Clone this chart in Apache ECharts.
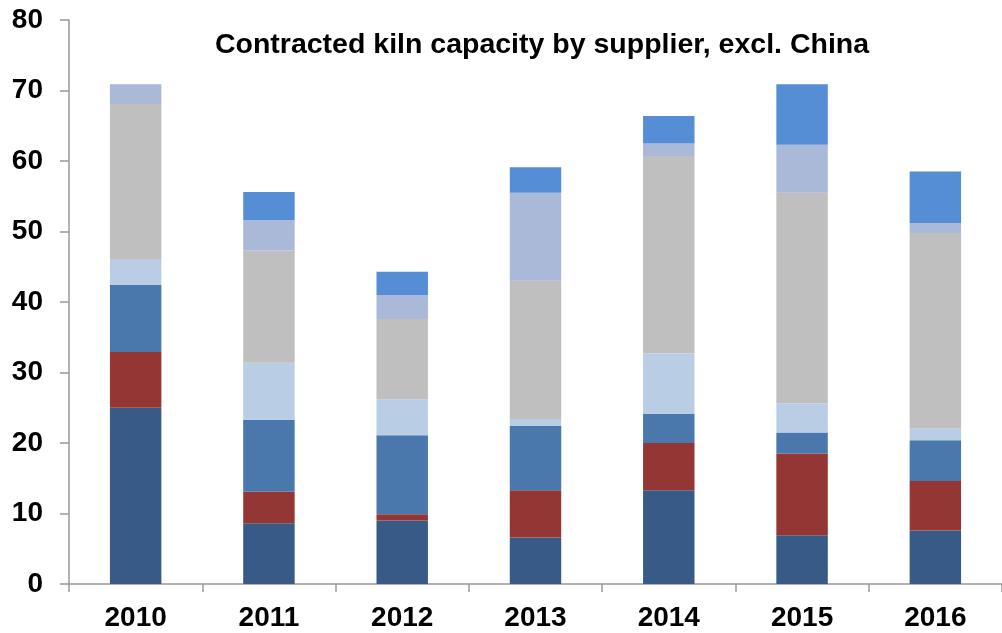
<!DOCTYPE html>
<html>
<head>
<meta charset="utf-8">
<script src="https://cdn.jsdelivr.net/npm/echarts@6/dist/echarts.min.js"></script>
<style>html,body{margin:0;padding:0;background:#fff;}#c{width:1002px;height:633px;}</style>
</head>
<body>
<div id="c"></div>
<script>
const categories = ['2010','2011','2012','2013','2014','2015','2016'];
const s1 = [25.0, 8.6, 9.0, 6.6, 13.3, 6.9, 7.6];
const s2 = [7.9, 4.5, 0.9, 6.7, 6.7, 11.6, 7.0];
const s3 = [9.5, 10.2, 11.2, 9.1, 4.1, 3.0, 5.8];
const s4 = [3.6, 8.1, 5.1, 1.0, 8.6, 4.1, 1.7];
const s5 = [22.1, 15.9, 11.4, 19.6, 28.0, 29.9, 27.7];
const s6 = [2.8, 4.3, 3.4, 12.5, 1.8, 6.8, 1.4];
const s7 = [0, 4.0, 3.3, 3.6, 3.9, 8.6, 7.3];
const yTicks = [0,10,20,30,40,50,60,70,80];
const seriesData = [s1,s2,s3,s4,s5,s6,s7];
const colors = ['#375B86','#943634','#4A77AC','#B9CDE5','#BFBFBF','#AAB9D8','#558ED5'];
const names = ['S1','S2','S3','S4','S5','S6','S7'];

const chart = echarts.init(document.getElementById('c'), null, {renderer:'canvas'});
chart.setOption({
  animation: false,
  backgroundColor: '#fff',
  title: {
    text: 'Contracted kiln capacity by supplier, excl. China',
    left: 537, textAlign: 'center', top: 26,
    textStyle: {fontFamily: 'Liberation Sans, Arial, sans-serif', fontWeight: 'bold', fontSize: 28.5, color: '#000'}
  },
  grid: {left: 69, right: -10, top: 20, bottom: 49, containLabel: false},
  xAxis: {
    type: 'category', data: categories,
    axisLine: {lineStyle: {color: '#999', width: 1.5}},
    axisTick: {show: true, length: 8, inside: false, alignWithLabel: false, lineStyle: {color: '#999', width: 1.5}},
    axisLabel: {margin: 20, color: '#000', fontFamily: 'Liberation Sans, Arial, sans-serif', fontWeight: 'bold', fontSize: 28}
  },
  yAxis: {
    type: 'value', min: yTicks[0], max: yTicks[yTicks.length-1], interval: 10,
    splitLine: {show: false},
    axisLine: {show: true, lineStyle: {color: '#999', width: 1.5}},
    axisTick: {show: true, length: 9, lineStyle: {color: '#999', width: 1.5}},
    axisLabel: {margin: 26, color: '#000', fontFamily: 'Liberation Sans, Arial, sans-serif', fontWeight: 'bold', fontSize: 28}
  },
  series: seriesData.map((d, i) => ({
    name: names[i], type: 'bar', stack: 'total', data: d,
    barWidth: '38.6%',
    itemStyle: {color: colors[i]}
  }))
});
</script>
</body>
</html>
